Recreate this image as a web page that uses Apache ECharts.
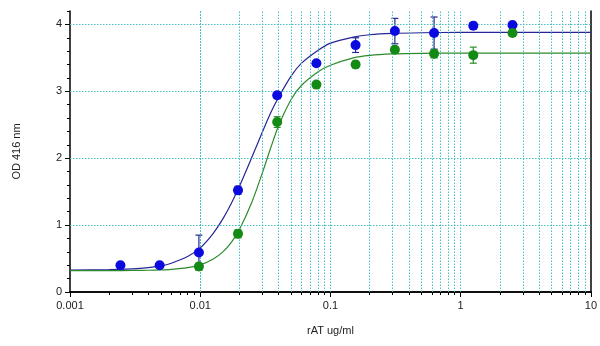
<!DOCTYPE html>
<html>
<head>
<meta charset="utf-8">
<script src="https://cdn.jsdelivr.net/npm/echarts@6/dist/echarts.min.js"></script>
<style>
  html, body { margin: 0; padding: 0; background: #fff; }
  #chart { width: 600px; height: 346px; }
</style>
</head>
<body>
<div id="chart"></div>
<script>
// Dilution series (ug/ml) and measured optical density at 416 nm
var conc = [0.00244, 0.00488, 0.00977, 0.0195, 0.039, 0.078, 0.156, 0.3125, 0.625, 1.25, 2.5];
var blueOD = [0.40, 0.40, 0.59, 1.52, 2.94, 3.42, 3.69, 3.90, 3.87, 3.98, 3.99];
var blueErr = [0, 0, 0.26, 0.06, 0.05, 0, 0.11, 0.19, 0.24, 0.05, 0.04];

var greenConc = [0.00977, 0.0195, 0.039, 0.078, 0.156, 0.3125, 0.625, 1.25, 2.5];
var greenOD = [0.38, 0.87, 2.54, 3.10, 3.40, 3.62, 3.56, 3.54, 3.87];
var greenErr = [0.05, 0.06, 0.08, 0, 0.05, 0.04, 0.06, 0.12, 0.05];

// Fitted sigmoid curves, sampled along the concentration axis
var fitX = [0.001, 0.002, 0.003, 0.004, 0.005, 0.006, 0.008, 0.01, 0.0125, 0.015, 0.0175, 0.02,
            0.025, 0.03, 0.035, 0.04, 0.05, 0.06, 0.08, 0.1, 0.15, 0.2, 0.3, 0.5, 1, 10];
var blueFitY = [0.326, 0.333, 0.346, 0.365, 0.39, 0.43, 0.53, 0.66, 0.87, 1.10, 1.34, 1.58,
                2.02, 2.39, 2.69, 2.91, 3.23, 3.42, 3.61, 3.72, 3.81, 3.845, 3.865, 3.875, 3.88, 3.88];
var greenFitY = [0.32, 0.32, 0.322, 0.325, 0.33, 0.338, 0.364, 0.405, 0.488, 0.603, 0.754, 0.934,
                 1.35, 1.78, 2.17, 2.485, 2.88, 3.09, 3.29, 3.39, 3.50, 3.537, 3.558, 3.567, 3.57, 3.57];

// Axis ticks and grid positions
var xTicks = [0.001, 0.01, 0.1, 1, 10];
var xGrid = [0.002, 0.003, 0.004, 0.005, 0.006, 0.007, 0.008, 0.009, 0.01,
             0.02, 0.03, 0.04, 0.05, 0.06, 0.07, 0.08, 0.09, 0.1,
             0.2, 0.3, 0.4, 0.5, 0.6, 0.7, 0.8, 0.9, 1,
             2, 3, 4, 5, 6, 7, 8, 9];
var yTicks = [0, 1, 2, 3, 4];
var yMinorTicks = [0.2, 0.4, 0.6, 0.8, 1.2, 1.4, 1.6, 1.8, 2.2, 2.4, 2.6, 2.8, 3.2, 3.4, 3.6, 3.8, 4.2];
var yGrid = [1, 2, 3, 4];

var gridColor = '#45c0c4';
var blueMark = '#0a0ae0';
var blueLine = '#262696';
var greenMark = '#138a13';
var greenLine = '#2c8a2c';
var textFont = '"Liberation Sans", Arial, sans-serif';

function pairs(xs, ys) {
  return xs.map(function (x, i) { return [x, ys[i]]; });
}
function errRows(xs, ys, es) {
  var out = [];
  xs.forEach(function (x, i) { if (es[i] > 0) out.push([x, ys[i] - es[i], ys[i] + es[i]]); });
  return out;
}
function errorBars(color) {
  return function (params, api) {
    var lo = api.coord([api.value(0), api.value(1)]);
    var hi = api.coord([api.value(0), api.value(2)]);
    var cap = 3.5;
    var st = { stroke: color, lineWidth: 1.2 };
    return {
      type: 'group',
      children: [
        { type: 'line', shape: { x1: lo[0], y1: lo[1], x2: hi[0], y2: hi[1] }, style: st },
        { type: 'line', shape: { x1: lo[0] - cap, y1: lo[1], x2: lo[0] + cap, y2: lo[1] }, style: st },
        { type: 'line', shape: { x1: hi[0] - cap, y1: hi[1], x2: hi[0] + cap, y2: hi[1] }, style: st }
      ]
    };
  };
}

var chart = echarts.init(document.getElementById('chart'), null, { renderer: 'canvas' });

var axisText = { color: '#222', fontSize: 11, fontFamily: textFont };

chart.setOption({
  animation: false,
  backgroundColor: '#fff',
  grid: { left: 70, right: 8, top: 11, bottom: 54, containLabel: false },
  xAxis: [
    {
      type: 'log', logBase: 10, min: 0.001, max: 10,
      name: 'rAT ug/ml', nameLocation: 'middle', nameGap: 33,
      nameTextStyle: axisText,
      axisLine: { show: true, lineStyle: { color: '#000', width: 1.5 } },
      axisTick: { show: true, inside: false, length: 5, customValues: xTicks, lineStyle: { color: '#000' } },
      axisLabel: { show: true, margin: 8, customValues: xTicks, formatter: function (v) { return String(v); }, ...axisText },
      splitLine: { show: false },
      minorTick: { show: false }
    },
    {
      type: 'log', logBase: 10, min: 0.001, max: 10, position: 'bottom',
      axisLine: { show: false },
      axisTick: { show: true, inside: false, length: 3, customValues: xGrid, lineStyle: { color: '#000' } },
      axisLabel: { show: false },
      splitLine: { show: false }
    },
    {
      type: 'value', min: 0, max: 1, position: 'top',
      axisLine: { show: true, lineStyle: { color: '#000', width: 1.5 } },
      axisTick: { show: false }, axisLabel: { show: false }, splitLine: { show: false }
    }
  ],
  yAxis: [
    {
      type: 'value', min: 0, max: 4.2,
      name: 'OD 416 nm', nameLocation: 'middle', nameGap: 48, nameRotate: 90,
      nameTextStyle: axisText,
      axisLine: { show: true, lineStyle: { color: '#000', width: 1.5 } },
      axisTick: { show: true, inside: false, length: 5, customValues: yTicks, lineStyle: { color: '#000' } },
      axisLabel: { show: true, margin: 8, customValues: yTicks, ...axisText },
      splitLine: { show: false }
    },
    {
      type: 'value', min: 0, max: 4.2, position: 'left',
      axisLine: { show: false },
      axisTick: { show: true, inside: false, length: 3, customValues: yMinorTicks, lineStyle: { color: '#000' } },
      axisLabel: { show: false },
      splitLine: { show: false }
    },
    {
      type: 'value', min: 0, max: 1, position: 'right',
      axisLine: { show: true, lineStyle: { color: '#000', width: 1.5 } },
      axisTick: { show: false }, axisLabel: { show: false }, splitLine: { show: false }
    }
  ],
  series: [
    {
      // dotted grid lines at every decade subdivision and each integer OD
      type: 'line', data: [], z: 1, silent: true,
      markLine: {
        silent: true, symbol: 'none', animation: false,
        label: { show: false },
        lineStyle: { color: gridColor, type: [1.5, 1.5], width: 1 },
        data: xGrid.map(function (v) { return { xAxis: v }; })
          .concat(yGrid.map(function (v) { return { yAxis: v }; }))
      }
    },
    {
      name: 'blue fit', type: 'line', data: pairs(fitX, blueFitY),
      smooth: 0.3, showSymbol: false, symbol: 'none', z: 3,
      lineStyle: { color: blueLine, width: 1.2 }
    },
    {
      name: 'green fit', type: 'line', data: pairs(fitX, greenFitY),
      smooth: 0.3, showSymbol: false, symbol: 'none', z: 3,
      lineStyle: { color: greenLine, width: 1.2 }
    },
    {
      type: 'custom', renderItem: errorBars(blueLine), data: errRows(conc, blueOD, blueErr),
      encode: { x: 0, y: [1, 2] }, z: 4, silent: true
    },
    {
      name: 'blue', type: 'scatter', data: pairs(conc, blueOD), symbolSize: 10, z: 5,
      itemStyle: { color: blueMark, opacity: 1 }
    },
    {
      type: 'custom', renderItem: errorBars(greenLine), data: errRows(greenConc, greenOD, greenErr),
      encode: { x: 0, y: [1, 2] }, z: 6, silent: true
    },
    {
      name: 'green', type: 'scatter', data: pairs(greenConc, greenOD), symbolSize: 10, z: 7,
      itemStyle: { color: greenMark, opacity: 1 }
    }
  ]
});
</script>
</body>
</html>
